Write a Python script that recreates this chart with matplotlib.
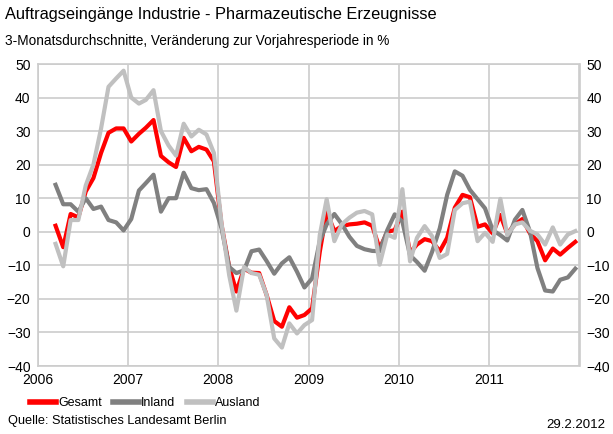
import matplotlib.pyplot as plt
import pandas as pd
import numpy as np

plt.rcParams['font.family'] = ['Liberation Sans', 'DejaVu Sans']

# monthly 3-month averages, Mar 2006 .. Dec 2011
months = pd.date_range('2006-03-01', '2011-12-01', freq='MS') + pd.Timedelta(days=14)

gesamt = [1.8, -4.6, 5.3, 4.3, 12, 16, 23.5, 29.5, 30.8, 30.8,
          26.9, 29.2, 31, 33.3, 22.6, 20.7, 19.3, 28, 24, 25.3, 24.5, 21,
          2, -10.5, -17.8, -11, -12.2, -12.3, -18.8, -26.6, -28.3, -22.5, -25.6, -24.8,
          -22.8, -6, 6, 0.2, 1.7, 2.2, 2.4, 2.8, 1.8, -5, 0, 0.5,
          6, -6.2, -3.8, -2.2, -2.8, -5.8, -1.8, 7.2, 11, 10.3, 1.5, 2.2,
          -0.5, 5, -0.5, 2.2, 3.8, -0.5, -2.8, -8.5, -5, -6.8, -4.8, -3]

inland = [14, 8.2, 8.2, 6, 10, 6.8, 7.5, 3.5, 2.8, 0.4,
          3.8, 12.3, 14.5, 17, 6, 10, 10, 17.6, 13, 12.4, 12.7, 8.6,
          1, -10.5, -12.3, -11.5, -5.8, -5.3, -8.7, -12.5, -9.4, -7.6, -11.9, -16.6,
          -13.9, -2.8, 2.2, 5.3, 2.3, -1.5, -4.2, -5.2, -5.7, -5.8, 0.5, 5.2,
          3, -7, -9, -11.6, -6, 1, 11, 18, 16.7, 12.5, 9.7, 7,
          0.5, -1, -2.6, 3.6, 6.5, 0, -10.8, -17.5, -17.8, -14.3, -13.6, -11]

ausland = [-3.6, -10.3, 3.5, 3.5, 13.8, 20, 30.8, 43.2, 45.7, 48,
           40, 38.2, 39.3, 42.2, 30, 25.7, 22.7, 32.2, 28.4, 30.4, 29, 23.5,
           2.5, -13, -23.5, -10.5, -12.3, -12.8, -18.8, -31.8, -34.5, -27.3, -30.3, -27.8,
           -26.3, -1, 9.7, -2.8, 2.2, 4.2, 5.7, 6.2, 5.2, -9.8, -0.8, -1.8,
           12.7, -8.8, -1.8, 1.7, -1.3, -7.8, -6.6, 6.5, 8.5, 9, -2.8, -0.3,
           -3, 9.8, -1, 2.2, 2.8, 0.3, -0.8, -3.8, 1.3, -3.8, -0.8, 0.2]

series = [('Gesamt', gesamt, '#ff0000'),
          ('Inland', inland, '#808080'),
          ('Ausland', ausland, '#c0c0c0')]

year_ticks = pd.date_range('2006-01-01', '2012-01-01', freq='YS')
year_labels = ['2006', '2007', '2008', '2009', '2010', '2011', '']
yticks = np.arange(-40, 51, 10)

fig = plt.figure(figsize=(6.13, 4.34), dpi=100)
ax = fig.add_axes([37.5 / 613, 68 / 434, 542 / 613, 302 / 434])

for name, vals, col in series:
    ax.plot(months, vals, color=col, lw=3, label=name)

ax.set_xlim(year_ticks[0], year_ticks[-1])
ax.set_ylim(-40, 50)
ax.set_xticks(year_ticks)
ax.set_xticklabels(year_labels)
ax.set_yticks(yticks)
ax.grid(True, color='#cccccc', lw=1.2)
ax.set_axisbelow(True)
for s in ax.spines.values():
    s.set_color('#cccccc')
    s.set_linewidth(1.2)
ax.tick_params(length=0, labelsize=10, pad=5)
ax.tick_params(axis='y', labelright=True, right=False)

fig.text(0.008, 0.985, 'Auftragseingänge Industrie - Pharmazeutische Erzeugnisse',
         fontsize=11.8, va='top', ha='left')
fig.text(0.008, 0.922, '3-Monatsdurchschnitte, Veränderung zur Vorjahresperiode in %',
         fontsize=9.8, va='top', ha='left')

leg = ax.legend(loc='center left', bbox_to_anchor=(30 / 613, 1 - 403 / 434),
                bbox_transform=fig.transFigure, ncol=3, frameon=False,
                fontsize=9, handlelength=2.1, handletextpad=0.15,
                columnspacing=0.9, borderaxespad=0, borderpad=0)
for h in leg.get_lines():
    h.set_linewidth(4)

fig.text(8 / 613, 1 - 421 / 434, 'Quelle: Statistisches Landesamt Berlin',
         fontsize=9.2, va='center')
fig.text(605 / 613, 1 - 425 / 434, '29.2.2012', fontsize=9.5, va='center', ha='right')

fig.savefig('out.png', dpi=100)
